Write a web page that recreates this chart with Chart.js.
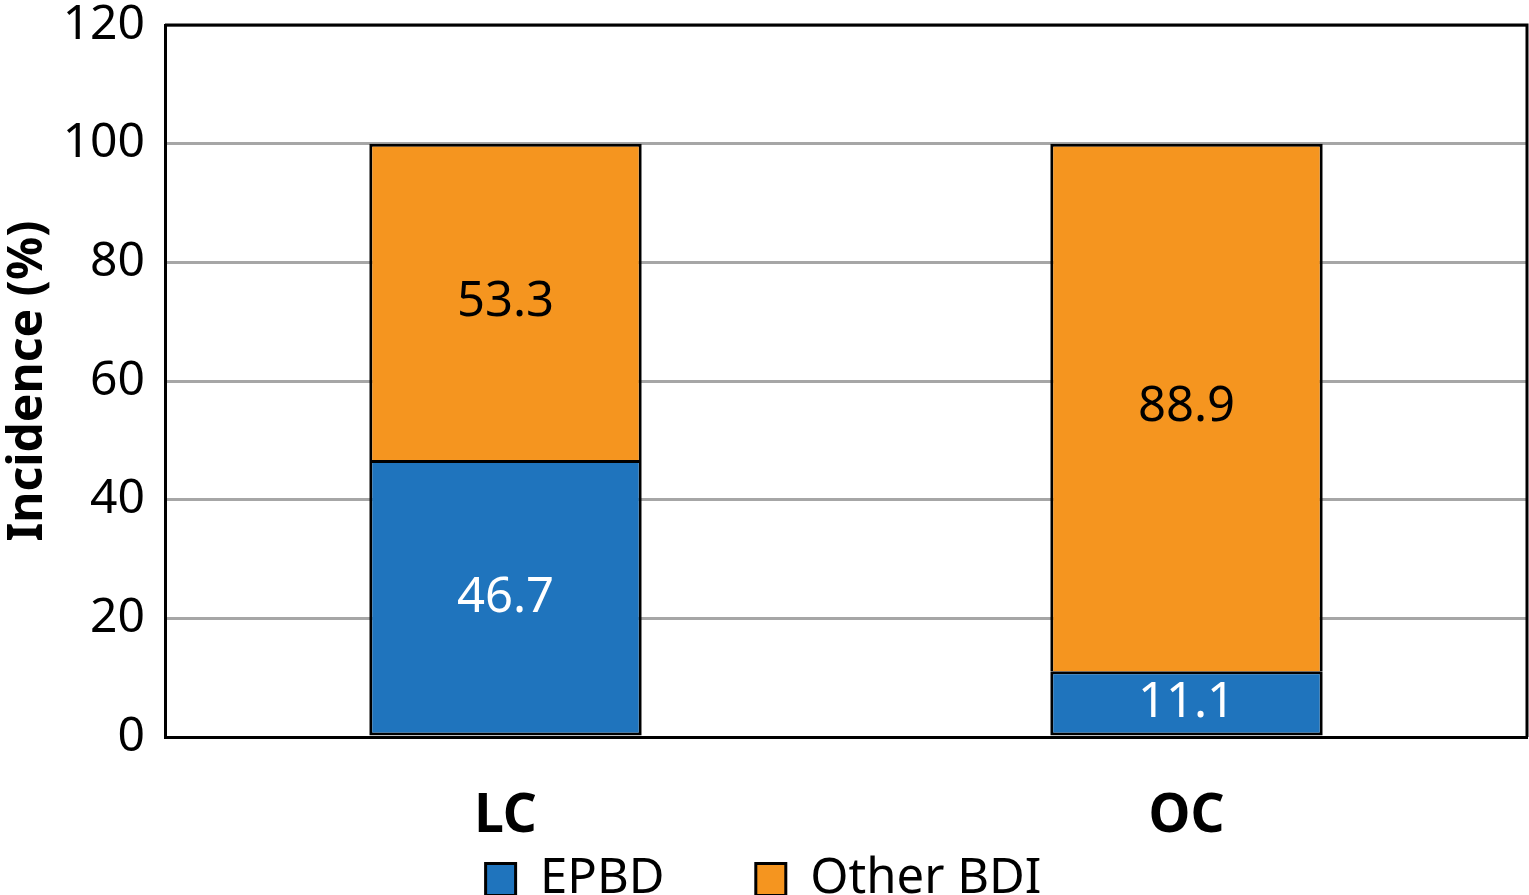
<!DOCTYPE html>
<html>
<head>
<meta charset="utf-8">
<script src="https://cdn.jsdelivr.net/npm/chart.js@4.4.0/dist/chart.umd.min.js"></script>
<style>
  html, body { margin: 0; padding: 0; background: #fff; }
  #wrap { width: 1529px; height: 895px; }
</style>
</head>
<body>
<div id="wrap"><canvas id="bar-chart"></canvas></div>
<script>
// categories and values
const groups = ['LC', 'OC'];
const epbd = [46.7, 11.1];
const otherBdi = [53.3, 88.9];
const yTicks = [0, 20, 40, 60, 80, 100, 120];

const FONT = "'Noto Sans', 'Open Sans', sans-serif";

// value labels inside each bar segment
const valueLabels = {
    id: 'valueLabels',
    afterDatasetsDraw(chart) {
        const ctx = chart.ctx;
        ctx.save();
        ctx.font = '49px ' + FONT;
        ctx.textAlign = 'center';
        ctx.textBaseline = 'middle';
        chart.data.datasets.forEach(function (ds, i) {
            const meta = chart.getDatasetMeta(i);
            ctx.fillStyle = ds.labelColor;
            meta.data.forEach(function (bar, j) {
                const y = (bar.y + bar.base) / 2;
                ctx.fillText(ds.data[j].toFixed(1), bar.x, y);
            });
        });
        ctx.restore();
    }
};

// closes the plot box on top and right
const plotBox = {
    id: 'plotBox',
    afterDraw(chart) {
        const a = chart.chartArea;
        const ctx = chart.ctx;
        ctx.save();
        ctx.strokeStyle = '#000';
        ctx.lineWidth = 3;
        ctx.beginPath();
        ctx.moveTo(a.left, a.top);
        ctx.lineTo(a.right, a.top);
        ctx.lineTo(a.right, a.bottom);
        ctx.stroke();
        ctx.restore();
    }
};

const data = {
    labels: groups,
    datasets: [
        {
            label: 'EPBD',
            data: epbd,
            backgroundColor: '#1F74BD',
            borderColor: '#000',
            borderWidth: 3,
            borderSkipped: false,
            labelColor: '#fff'
        },
        {
            label: 'Other BDI',
            data: otherBdi,
            backgroundColor: '#F5951F',
            borderColor: '#000',
            borderWidth: 3,
            borderSkipped: 'start',
            labelColor: '#000'
        }
    ]
};

const config = {
    type: 'bar',
    data: data,
    plugins: [valueLabels, plotBox],
    options: {
        responsive: true,
        maintainAspectRatio: false,
        animation: false,
        categoryPercentage: 1,
        barPercentage: 0.4,
        layout: { padding: { top: 25, right: 2, left: 0, bottom: -19 } },
        plugins: {
            tooltip: { enabled: false },
            legend: {
                position: 'bottom',
                labels: {
                    color: '#000',
                    font: { family: FONT, size: 49 },
                    boxWidth: 30,
                    boxHeight: 32,
                    padding: 2,
                    generateLabels(chart) {
                        const items = Chart.defaults.plugins.legend.labels.generateLabels(chart);
                        items[0].text = items[0].text + '       ';
                        return items;
                    }
                }
            }
        },
        scales: {
            x: {
                stacked: true,
                grid: { display: false },
                border: { display: true, color: '#000', width: 3 },
                ticks: {
                    color: '#000',
                    padding: 40,
                    font: { family: FONT, size: 53, weight: 'bold' }
                },
                afterFit(scale) { scale.height = 116; }
            },
            y: {
                stacked: true,
                min: yTicks[0],
                max: yTicks[yTicks.length - 1],
                afterBuildTicks(scale) {
                    scale.ticks = yTicks.map(function (v) { return { value: v }; });
                },
                grid: { color: '#A6A6A6', lineWidth: 3, drawTicks: false },
                border: { display: true, color: '#000', width: 3 },
                ticks: {
                    color: '#000',
                    padding: 20,
                    font: { family: FONT, size: 48, lineHeight: 1 }
                },
                title: {
                    display: true,
                    text: 'Incidence (%)',
                    color: '#000',
                    padding: 0,
                    font: { family: FONT, size: 48, weight: 'bold' }
                },
                afterFit(scale) {
                    scale.width = 165;
                    scale.paddingTop = 0;
                    scale.paddingBottom = 0;
                }
            }
        }
    }
};

var myChart = new Chart(document.getElementById('bar-chart'), config);
</script>
</body>
</html>
